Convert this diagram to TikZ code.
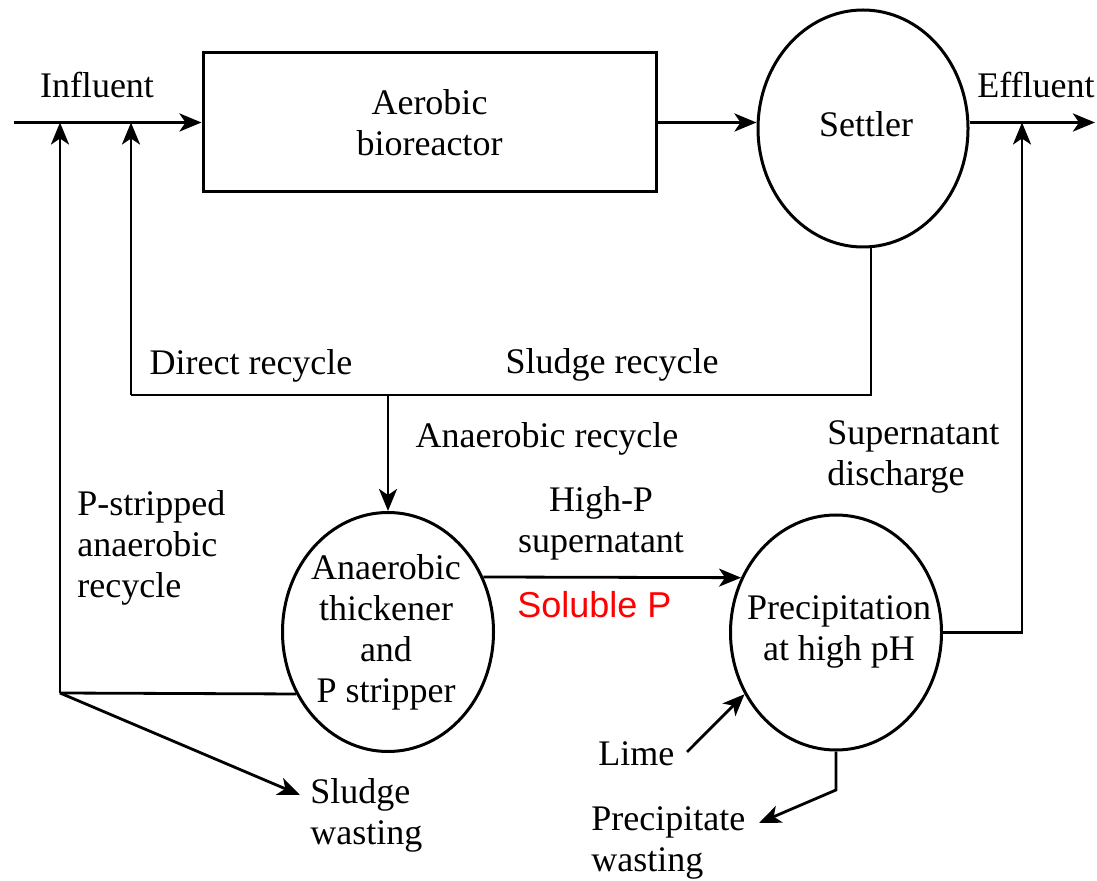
\documentclass[tikz,border=0pt]{standalone}
\usepackage{fontspec}
\setmainfont{Liberation Serif}
\newfontfamily\solfont{Liberation Sans}
\usetikzlibrary{arrows.meta,shapes.geometric}
\begin{document}
\begin{tikzpicture}[x=0.5pt,y=-0.5pt,
  every node/.style={inner sep=0pt, font=\fontsize{18pt}{20.5pt}\selectfont},
  line/.style={line width=1.4pt},
  arr/.style={line width=1.4pt, -{Stealth[length=11pt,width=9pt,inset=3pt]}},
  vessel/.style={draw, ellipse, line width=1.5pt}]
\useasboundingbox (0,0) rectangle (1097,881);

% units
\node[draw, line width=1.5pt, minimum width=226.5pt, minimum height=69.5pt, align=center] (box) at (429.5,122.5) {Aerobic\\bioreactor};
\node[vessel, minimum width=105pt, minimum height=118.5pt] (settler) at (863,128.5) {};
\node[anchor=base] (settlertxt) at (866,137) {Settler};
\node[vessel, minimum width=105.5pt, minimum height=119.5pt] (an) at (388,632) {};
\node[align=center] (antxt) at (386,632.6) {Anaerobic\\thickener\\and\\P stripper};
\node[vessel, minimum width=105.5pt, minimum height=117.5pt] (pr) at (836,632.5) {};
\node[align=center] (prtxt) at (839,631.6) {Precipitation\\at high pH};

% coordinates
\coordinate (infl) at (14,122.5);
\coordinate (effl) at (1095,122.5);
\coordinate (sb) at (871,395);
\coordinate (dr) at (131,395);
\coordinate (jn) at (60,693);
\coordinate (swtip) at (300,795);
\coordinate (rtop) at (1022,122.5);
\coordinate (limeS) at (687,752);
\coordinate (pwk) at (836,790);
\coordinate (pwtip) at (759,823);

% connectors
\draw[arr, line width=1.7pt] (infl) -- (box.west);
\draw[arr, line width=1.7pt] (box.east) -- (box.east -| settler.west);
\draw[arr, line width=1.7pt] (settler.east |- effl) -- (effl);
\draw[line] (sb |- settler.south) -- (sb) -- (dr);
\draw[arr] (dr) -- (dr |- infl);
\draw[arr] (an.north |- dr) -- (an.north);
\draw[line] (an.214) -- (jn);
\draw[arr] (jn) -- (jn |- infl);
\draw[arr] (jn) -- (swtip);
\draw[arr] (an.30) -- (pr.150);
\draw[arr] (pr.east) -| (rtop);
\draw[arr] (limeS) -- (pr.214);
\draw[arr] (pr.south) -- (pwk) -- (pwtip);

% labels
\node[anchor=base] (influent) at (97,98) {Influent};
\node[anchor=base] (effluent) at (1036,98) {Effluent};
\node[anchor=base] (directrc) at (251,375) {Direct recycle};
\node[anchor=base] (sludgerc) at (612,374) {Sludge recycle};
\node[anchor=base] (anrc) at (547,448) {Anaerobic recycle};
\node[align=left, anchor=west] (pstrip) at (77,548) {P-stripped\\anaerobic\\recycle};
\node[align=center] (highp) at (601,523) {High-P\\supernatant};
\node[anchor=base west, text=red, font=\solfont\fontsize{18pt}{20.5pt}\selectfont] (solp) at (517,617) {Soluble P};
\node[align=left, anchor=west] (supdis) at (827,457) {Supernatant\\discharge};
\node[anchor=base west] (lime) at (598,765) {Lime};
\node[align=left, anchor=west] (sw) at (310,815) {Sludge\\wasting};
\node[align=left, anchor=west] (pw) at (591,843) {Precipitate\\wasting};
\end{tikzpicture}
\end{document}
